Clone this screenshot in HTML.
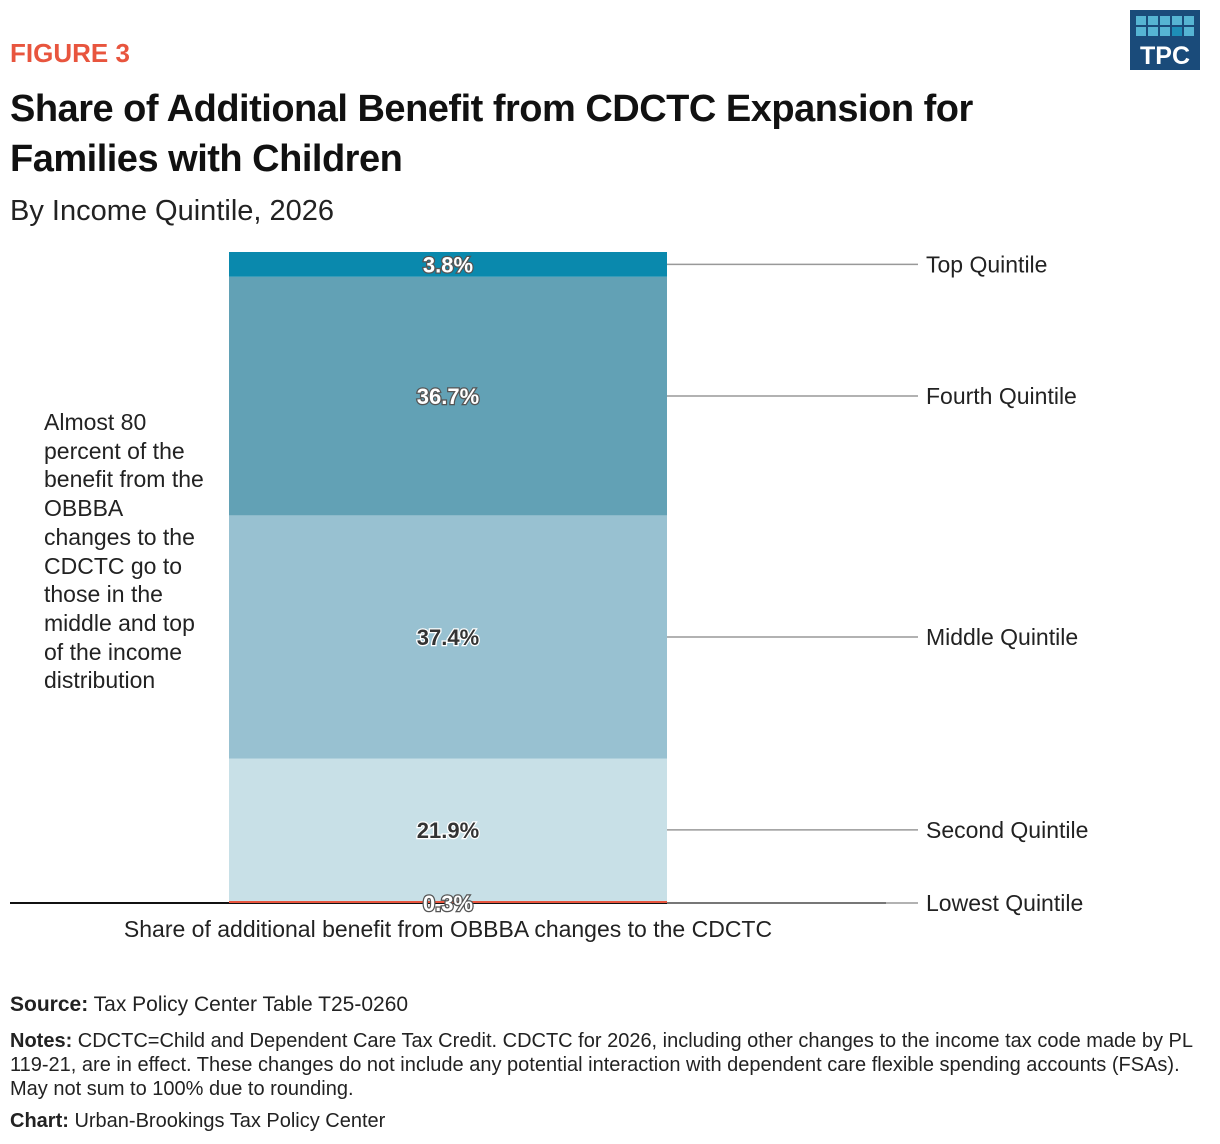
<!DOCTYPE html>
<html><head><meta charset="utf-8"><style>
body{margin:0;width:1220px;height:1144px;background:#fff;font-family:"Liberation Sans",sans-serif;color:#222;position:relative;overflow:hidden}
.a{position:absolute;margin:0}
</style></head><body>
<div class="a" style="left:10px;top:38px;font-size:26px;font-weight:bold;color:#e8553e">FIGURE 3</div>
<div class="a" style="left:10px;top:84px;font-size:38px;font-weight:bold;line-height:50px;color:#111;letter-spacing:-0.5px">Share of Additional Benefit from CDCTC Expansion for<br>Families with Children</div>
<div class="a" style="left:10px;top:195px;font-size:29px;color:#222">By Income Quintile, 2026</div>
<svg class="a" style="left:1130px;top:10px" width="70" height="60">
<rect width="70" height="60" fill="#1a4b7a"/>
<g fill="#56b4d3"><rect x="6" y="6" width="10" height="9"/><rect x="18" y="6" width="10" height="9"/><rect x="30" y="6" width="10" height="9"/><rect x="42" y="6" width="10" height="9"/><rect x="54" y="6" width="10" height="9"/><rect x="6" y="17" width="10" height="9"/><rect x="18" y="17" width="10" height="9"/><rect x="30" y="17" width="10" height="9"/><rect x="42" y="17" width="10" height="9" fill="#1e8fb8"/><rect x="54" y="17" width="10" height="9"/></g>
<text x="35" y="54" text-anchor="middle" fill="#fff" font-size="25" font-weight="bold" font-family="Liberation Sans">TPC</text></svg>
<div class="a" style="left:44px;top:408px;font-size:23px;line-height:28.7px;color:#222;width:160px">Almost 80 percent of the benefit from the OBBBA changes to the CDCTC go to those in the middle and top of the income distribution</div>
<svg class="a" id="chart" style="left:0;top:0" width="1220" height="960"></svg>
<div class="a" style="left:0;width:896px;text-align:center;top:916px;font-size:23px;color:#222">Share of additional benefit from OBBBA changes to the CDCTC</div>
<div class="a" style="left:10px;top:993px;font-size:21px"><b>Source:</b> Tax Policy Center Table T25-0260</div>
<div class="a" style="left:10px;top:1029px;font-size:20px;line-height:24px;width:1205px"><b>Notes:</b> CDCTC=Child and Dependent Care Tax Credit. CDCTC for 2026, including other changes to the income tax code made by PL 119-21, are in effect. These changes do not include any potential interaction with dependent care flexible spending accounts (FSAs). May not sum to 100% due to rounding.</div>
<div class="a" style="left:10px;top:1110px;font-size:20px"><b>Chart:</b> Urban-Brookings Tax Policy Center</div>
<script>
const categories=["Lowest Quintile","Second Quintile","Middle Quintile","Fourth Quintile","Top Quintile"];
const values=[0.3,21.9,37.4,36.7,3.8];
const labels=["0.3%","21.9%","37.4%","36.7%","3.8%"];
const colors=["#e8553e","#c8e0e7","#98c1d1","#62a1b5","#0a89ad"];
const labelColors=["#fff","#333","#333","#fff","#fff"];
const svg=document.getElementById('chart');const NS='http://www.w3.org/2000/svg';
const base=903,top0=252,x0=229,x1=667;
const total=values.reduce((a,b)=>a+b,0);
const y=v=>base-(v/total)*(base-top0);
function mk(t,a){const e=document.createElementNS(NS,t);for(const k in a)e.setAttribute(k,a[k]);svg.appendChild(e);return e;}
let cum=0;const mids=[];
values.forEach((v,i)=>{const yt=y(cum+v),yb=y(cum);
const r=mk('rect',{x:x0,y:yt,width:x1-x0,height:Math.max(yb-yt,1),fill:colors[i]});


mids.push(i==0?base:(yt+yb)/2);cum+=v;});
const ax=mk('line',{x1:10,x2:886,y1:base,y2:base,stroke:'#111','stroke-width':2});


mk('rect',{x:x0,y:base-2,width:x1-x0,height:2,fill:colors[0]});
values.forEach((v,i)=>{const m=mids[i];
const ln=mk('line',{x1:x1,x2:918,y1:m,y2:m,stroke:'#999','stroke-width':1.5});


const t=mk('text',{x:926,y:m+8,'font-size':23,fill:'#222','font-family':'Liberation Sans'});t.textContent=categories[i];


const lc=labelColors[i];
const vl=mk('text',{x:(x0+x1)/2,y:m+8,'text-anchor':'middle','font-size':22,'font-weight':'bold',fill:lc,stroke:lc=='#fff'?'#555':'#fff','stroke-width':2.5,'paint-order':'stroke','font-family':'Liberation Sans'});vl.textContent=labels[i];

});
</script>
</body></html>
